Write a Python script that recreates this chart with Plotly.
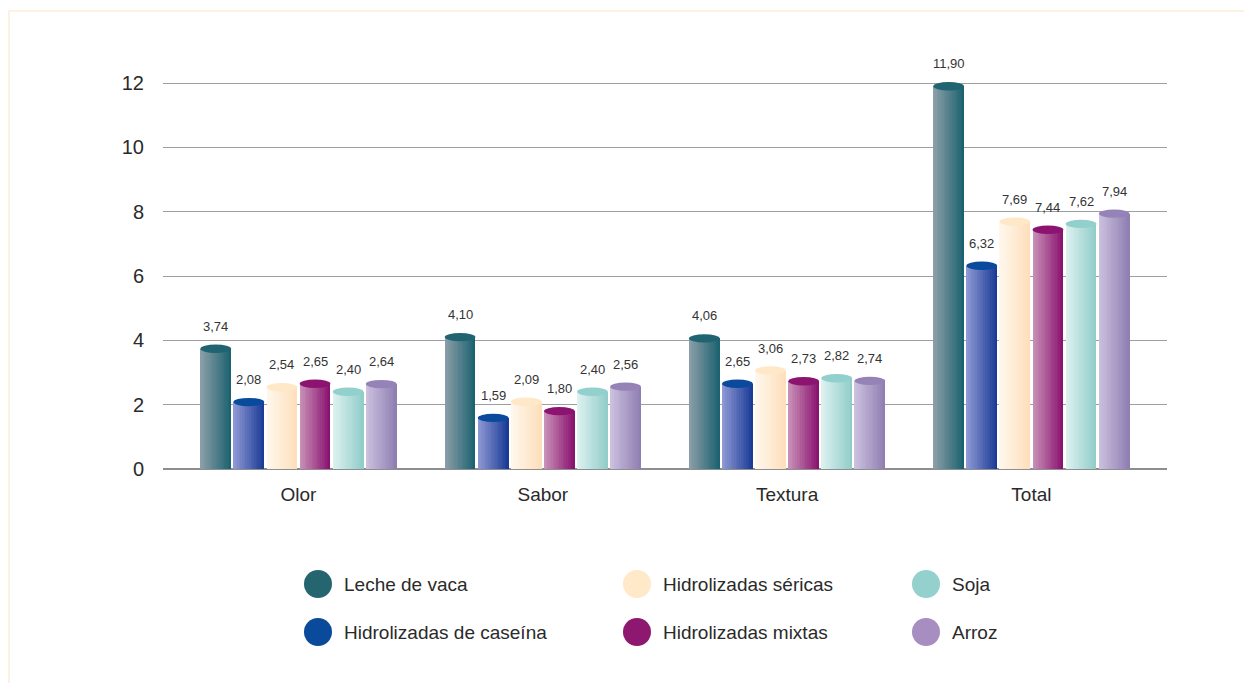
import plotly.graph_objects as go

# ---------------- data ----------------
categories = ["Olor", "Sabor", "Textura", "Total"]
series_names = ["Leche de vaca", "Hidrolizadas de caseína", "Hidrolizadas séricas",
                "Hidrolizadas mixtas", "Soja", "Arroz"]
leche = [3.74, 4.10, 4.06, 11.90]
caseina = [2.08, 1.59, 2.65, 6.32]
sericas = [2.54, 2.09, 3.06, 7.69]
mixtas = [2.65, 1.80, 2.73, 7.44]
soja = [2.40, 2.40, 2.82, 7.62]
arroz = [2.64, 2.56, 2.74, 7.94]
series_values = [leche, caseina, sericas, mixtas, soja, arroz]
y_ticks = [0, 2, 4, 6, 8, 10, 12]

# ---------------- styles ----------------
grad_left = ["#8a9ea7", "#8e98d4", "#fff7ec", "#c890b6", "#dcf1f0", "#cbc0de"]
grad_right = ["#1d6270", "#1b3c96", "#fddfbb", "#8a1270", "#92cdc9", "#8f7fb2"]
cap_colors = ["#1f6470", "#0a4a9c", "#ffe8c8", "#8c1470", "#92d0cd", "#9583b8"]
legend_colors = ["#246570", "#0a4a9a", "#ffe9c9", "#8e176f", "#93d0ce", "#a78dc0"]

FONT = "Liberation Sans, Arial, sans-serif"
OFF = 8  # page body margin
W, H = 1252 - OFF, 683 - OFF
ML, MT = 163 - OFF, 83 - OFF - 32
PLOT_R, PLOT_B = 1167 - OFF, 469 - OFF
MR, MB = W - PLOT_R, H - PLOT_B
PW, PH = W - ML - MR, H - MT - MB
XR = [-0.5546, 3.555]
px_per_y = 386 / 12.0
YR = [0, PH / px_per_y]
px_per_x = PW / (XR[1] - XR[0])

slot = 33.1 / px_per_x
bar_w = 30.8 / px_per_x
N = 18


def hex2rgb(h):
    h = h.lstrip("#")
    return [int(h[i:i + 2], 16) for i in (0, 2, 4)]


def mix(c1, c2, t):
    a, b = hex2rgb(c1), hex2rgb(c2)
    return "rgb(%d,%d,%d)" % tuple(round(a[i] + (b[i] - a[i]) * t) for i in range(3))


xpos = list(range(len(categories)))
fig = go.Figure()
shapes = []
annotations = []

for i, (name, vals) in enumerate(zip(series_names, series_values)):
    left_off = (i - 2.5) * slot - bar_w / 2
    for k in range(N):
        t = k / (N - 1)
        fig.add_trace(go.Bar(
            x=xpos, y=vals,
            offset=left_off + k * bar_w / N,
            width=(N - k) * bar_w / N,
            marker=dict(color=mix(grad_left[i], grad_right[i], t), line=dict(width=0)),
            showlegend=False, hoverinfo="skip",
        ))
    for c, v in zip(xpos, vals):
        x0 = c + left_off
        shapes.append(dict(type="circle", xref="x", yref="y", x0=x0, x1=x0 + bar_w,
                           ysizemode="pixel", yanchor=v, y0=-4.2, y1=4.2,
                           fillcolor=cap_colors[i], line=dict(width=0), layer="above"))
        annotations.append(dict(x=c + (i - 2.5) * slot, y=v, xref="x", yref="y",
                                text=f"{v:.2f}".replace(".", ","), showarrow=False,
                                yanchor="bottom", yshift=13,
                                font=dict(family=FONT, size=13, color="#333333")))


def px2paper_x(px):
    return (px - OFF - ML) / PW


def px2paper_y(py):
    return (PLOT_B - (py - OFF)) / PH


# legend (manual)
legend_order = [0, 2, 4, 1, 3, 5]
col_marker_x = [318, 637, 926]
col_text_x = [342, 661, 950]
row_y = [584, 632]
for pos, si in enumerate(legend_order):
    r, col = divmod(pos, 3)
    shapes.append(dict(type="circle", xref="paper", yref="paper",
                       xsizemode="pixel", ysizemode="pixel",
                       xanchor=px2paper_x(col_marker_x[col]), yanchor=px2paper_y(row_y[r]),
                       x0=-14, x1=14, y0=-14, y1=14,
                       fillcolor=legend_colors[si], line=dict(width=0)))
    annotations.append(dict(x=px2paper_x(col_text_x[col]), y=px2paper_y(row_y[r]),
                            xref="paper", yref="paper", text=series_names[si],
                            showarrow=False, xanchor="left", yanchor="middle",
                            font=dict(family=FONT, size=19, color="#2a2a2a")))

# faint frame (top and left edges)
frame_col = "#fdf1e2"
shapes.append(dict(type="line", xref="paper", yref="paper",
                   x0=px2paper_x(8), x1=px2paper_x(1252), y0=px2paper_y(11), y1=px2paper_y(11),
                   line=dict(color=frame_col, width=2)))
shapes.append(dict(type="line", xref="paper", yref="paper",
                   x0=px2paper_x(9), x1=px2paper_x(9), y0=px2paper_y(11), y1=px2paper_y(683),
                   line=dict(color=frame_col, width=2)))

fig.update_layout(
    width=W, height=H,
    margin=dict(l=ML, r=MR, t=MT, b=MB),
    paper_bgcolor="white", plot_bgcolor="white",
    barmode="overlay", bargap=0,
    shapes=shapes, annotations=annotations,
    showlegend=False,
    font=dict(family=FONT, color="#333333"),
    xaxis=dict(range=XR, tickvals=xpos, ticktext=categories, showgrid=False,
               zeroline=False, showline=False, ticks="", ticklabelstandoff=12,
               tickfont=dict(family=FONT, size=19, color="#2a2a2a"), fixedrange=True),
    yaxis=dict(range=YR, tickvals=y_ticks, ticktext=[str(t) for t in y_ticks],
               showgrid=True, gridcolor="#9e9e9e", gridwidth=1.3,
               zeroline=True, zerolinecolor="#8e8e8e", zerolinewidth=1.5,
               showline=False, ticks="", ticklabelstandoff=18,
               tickfont=dict(family=FONT, size=20, color="#2a2a2a"), fixedrange=True),
)

fig.write_html("out.html")
